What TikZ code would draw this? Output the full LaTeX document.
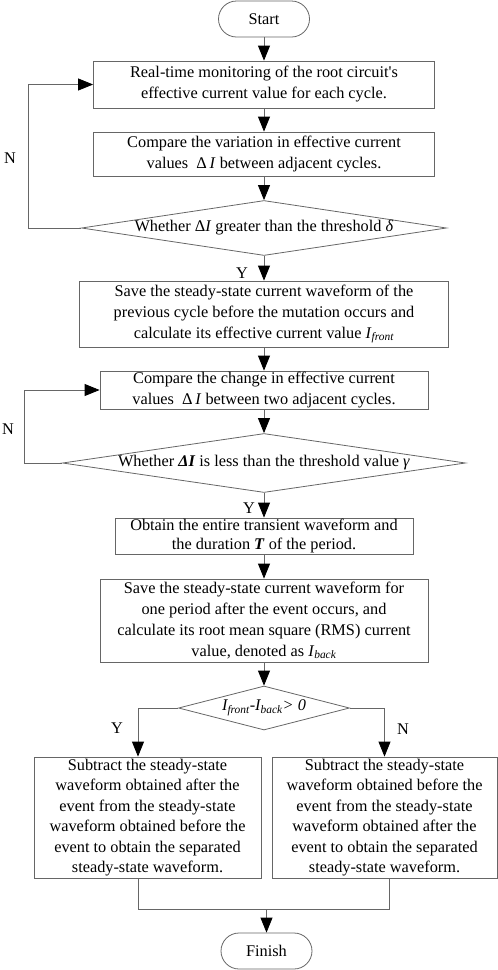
\documentclass[tikz,border=0pt]{standalone}
\usepackage{fontspec}
\setmainfont{Liberation Serif}[Ligatures=TeXOff]
\usetikzlibrary{shapes.geometric,arrows.meta}
\newcommand{\Isub}[1]{\textit{I}\textsubscript{\textit{#1}}}
\begin{document}
\begin{tikzpicture}[x=1pt,y=-1pt,
  txt/.style={font=\fontsize{16.3}{21}\selectfont},
  box/.style={txt,draw=black!60,line width=0.8pt,rectangle,inner sep=0pt,align=center},
  term/.style={box,rounded corners=18pt,minimum width=91pt,minimum height=36pt},
  dia/.style={draw=black!60,line width=0.8pt,diamond,inner sep=0pt},
  line/.style={draw=black!60,line width=0.8pt},
  arr/.style={line,-{Triangle[length=15pt,width=12pt,color=black]}},
  lbl/.style={txt,inner sep=0pt}]
\useasboundingbox (0,0) rectangle (498,970);

\node[term] (start) at (264,19) {Start};
\node[box,minimum width=341pt,minimum height=47pt] (b1) at (264,84.5)
  {Real-time monitoring of the root circuit's\\effective current value for each cycle.};
\node[box,minimum width=341pt,minimum height=44pt] (b2) at (264,154)
  {Compare the variation in effective current\\values \ Δ\,\textit{I} between adjacent cycles.};
\node[dia,minimum width=365pt,minimum height=55pt] (d1) at (264,228) {};
\node[lbl] (d1t) at (264,228) {Whether Δ\textit{I} greater than the threshold \textit{δ}};
\node[box,minimum width=369pt,minimum height=66pt] (b3) at (264,314)
  {Save the steady-state current waveform of the\\previous cycle before the mutation occurs and\\calculate its effective current value \Isub{front}};
\node[box,minimum width=328pt,minimum height=38pt] (b4) at (264,390)
  {Compare the change in effective current\\values \ Δ\,\textit{I} between two adjacent cycles.};
\node[dia,minimum width=403pt,minimum height=59pt] (d2) at (264,463) {};
\node[lbl] (d2t) at (264,463) {Whether \textbf{\textit{ΔI}} is less than the threshold value \textit{γ}};
\node[box,font=\fontsize{16.3}{19}\selectfont,minimum width=298pt,minimum height=36pt] (b5) at (264,536)
  {Obtain the entire transient waveform and\\the duration \textbf{\textit{T}} of the period.};
\node[box,minimum width=328pt,minimum height=83pt] (b6) at (264,620.5)
  {Save the steady-state current waveform for\\one period after the event occurs, and\\calculate its root mean square (RMS) current\\value, denoted as \Isub{back}};
\node[dia,minimum width=171pt,minimum height=44pt] (d3) at (264,708) {};
\node[lbl] (d3t) at (264,708) {\textit{I\textsubscript{front}-I\textsubscript{back}> 0}};
\node[box,font=\fontsize{16.3}{20.4}\selectfont,minimum width=227pt,minimum height=121pt] (b7) at (147.5,817.5)
  {Subtract the steady-state\\waveform obtained after the\\event from the steady-state\\waveform obtained before the\\event to obtain the separated\\steady-state waveform.};
\node[box,font=\fontsize{16.3}{20.4}\selectfont,minimum width=225pt,minimum height=121pt] (b8) at (384.5,817.5)
  {Subtract the steady-state\\waveform obtained before the\\event from the steady-state\\waveform obtained after the\\event to obtain the separated\\steady-state waveform.};
\node[term] (fin) at (266.5,951) {Finish};

\draw[arr] (start) -- (b1);
\draw[arr] (b1) -- (b2);
\draw[arr] (b2) -- (d1);
\draw[arr] (d1) -- (b3);
\draw[arr] (b3) -- (b4);
\draw[arr] (b4) -- (d2);
\draw[arr] (d2) -- (b5);
\draw[arr] (b5) -- (b6);
\draw[arr] (b6) -- (d3);
\draw[arr] (d1.west) -- ++(-53,0) |- (b1.west);
\draw[arr] (d2.west) -- ++(-37.5,0) |- (b4.west);
\draw[arr] (d3.west) -| ([xshift=-9.5pt]b7.north);
\draw[arr] (d3.east) -| (b8.north);
\coordinate (m) at (266.5,909);
\draw[line] ([xshift=-9.5pt]b7.south) |- (m) -| ([xshift=4.5pt]b8.south);
\draw[arr] (m) -- (fin);

\node[lbl] (n1) at (10,158) {N};
\node[lbl] (y1) at (242,273) {Y};
\node[lbl] (n2) at (8,429) {N};
\node[lbl] (y2) at (249,508.5) {Y};
\node[lbl] (y3) at (117,728) {Y};
\node[lbl] (n3) at (403,729) {N};
\end{tikzpicture}
\end{document}
